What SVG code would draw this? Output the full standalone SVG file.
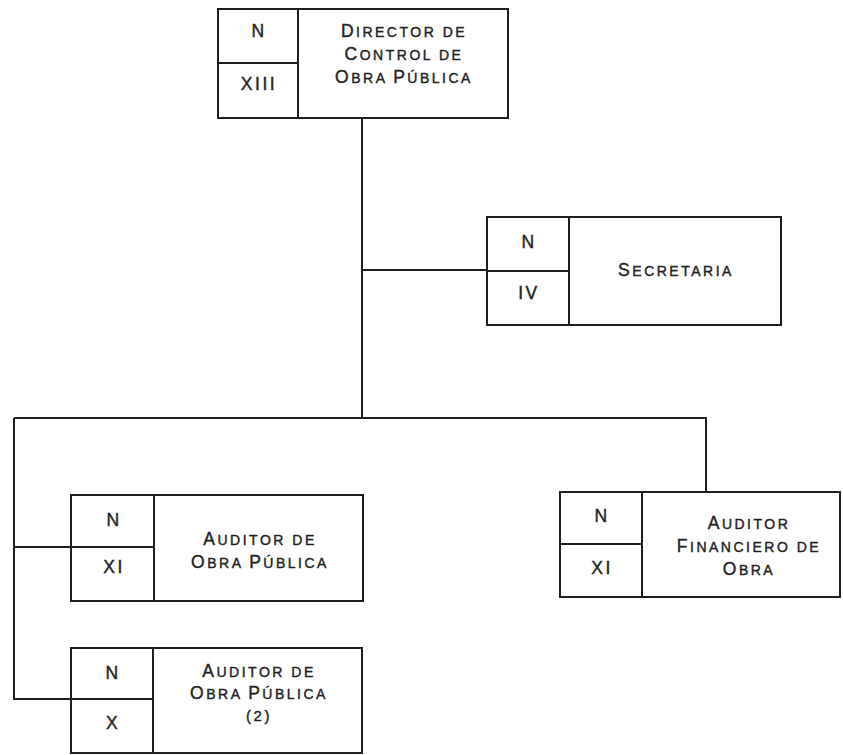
<svg xmlns="http://www.w3.org/2000/svg" width="843" height="755" viewBox="0 0 843 755">
<style>
.box{fill:#fff;stroke:#1e1e1e;stroke-width:2}
.ln{fill:none;stroke:#1e1e1e;stroke-width:2}
text{font-family:"Liberation Sans",Arial,sans-serif;fill:#222;stroke:#222;stroke-width:0.4px;font-size:14px;letter-spacing:2.5px;text-anchor:middle}
.B{font-size:17.5px}
</style>
<rect width="843" height="755" fill="#fff"/>
<g id="connectors">
<path class="ln" d="M362 118 V418 M362 270 H487 M14 418 H706 V492 M14 418 V699 H71 M14 547 H71"/>
</g>
<g id="director">
<rect class="box" x="218" y="9" width="290" height="109"/>
<path class="ln" d="M298 9 V118 M218 63 H298"/>
<text x="259" y="37" class="B">N</text>
<text x="259" y="90" class="B">XIII</text>
<text x="404" y="37"><tspan class="B">D</tspan>IRECTOR DE</text>
<text x="404" y="60"><tspan class="B">C</tspan>ONTROL DE</text>
<text x="404" y="83"><tspan class="B">O</tspan>BRA <tspan class="B">P</tspan>ÚBLICA</text>
</g>
<g id="secretaria">
<rect class="box" x="487" y="217" width="294" height="108"/>
<path class="ln" d="M569 217 V325 M487 271 H569"/>
<text x="529" y="248" class="B">N</text>
<text x="529" y="299" class="B">IV</text>
<text x="676" y="276"><tspan class="B">S</tspan>ECRETARIA</text>
</g>
<g id="auditor1">
<rect class="box" x="71" y="495" width="292" height="106"/>
<path class="ln" d="M154 495 V601 M71 547 H154"/>
<text x="114" y="526" class="B">N</text>
<text x="114" y="573" class="B">XI</text>
<text x="260" y="545"><tspan class="B">A</tspan>UDITOR DE</text>
<text x="260" y="568"><tspan class="B">O</tspan>BRA <tspan class="B">P</tspan>ÚBLICA</text>
</g>
<g id="auditor2">
<rect class="box" x="71" y="648" width="291" height="105"/>
<path class="ln" d="M153 648 V753 M71 699 H153"/>
<text x="113" y="679" class="B">N</text>
<text x="113" y="729" class="B">X</text>
<text x="259" y="677"><tspan class="B">A</tspan>UDITOR DE</text>
<text x="259" y="699"><tspan class="B">O</tspan>BRA <tspan class="B">P</tspan>ÚBLICA</text>
<text x="259" y="721" class="B" style="font-size:15px">(2)</text>
</g>
<g id="auditor_financiero">
<rect class="box" x="560" y="492" width="280" height="105"/>
<path class="ln" d="M642 492 V597 M560 544 H642"/>
<text x="602" y="522" class="B">N</text>
<text x="602" y="574" class="B">XI</text>
<text x="749" y="529"><tspan class="B">A</tspan>UDITOR</text>
<text x="749" y="552"><tspan class="B">F</tspan>INANCIERO DE</text>
<text x="749" y="575"><tspan class="B">O</tspan>BRA</text>
</g>
</svg>
